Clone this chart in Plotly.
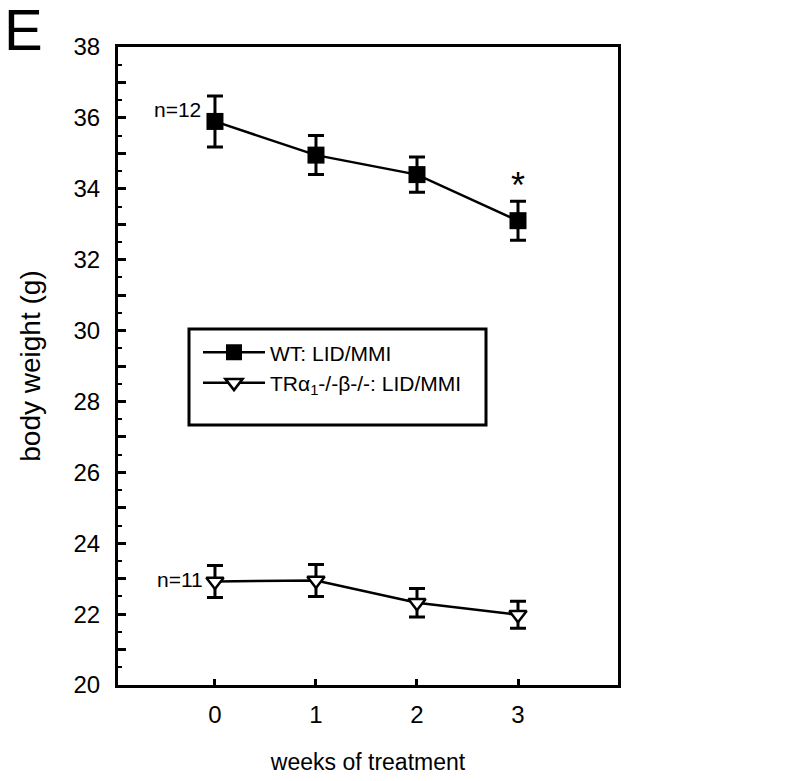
import plotly.graph_objects as go

# body weight over weeks of LID/MMI treatment
weeks = [0, 1, 2, 3]
wt_mean = [35.9, 34.95, 34.4, 33.1]
wt_err = [0.72, 0.55, 0.5, 0.55]
tr_mean = [22.92, 22.95, 22.32, 21.98]
tr_err = [0.45, 0.45, 0.4, 0.38]

y_ticks = list(range(20, 39))
y_labels = [str(v) if v % 2 == 0 else "" for v in y_ticks]

FONT = "Liberation Sans, Arial, sans-serif"

fig = go.Figure()

fig.add_trace(go.Scatter(
    x=weeks, y=wt_mean,
    mode="lines+markers",
    name="WT: LID/MMI",
    line=dict(color="black", width=2.5),
    marker=dict(symbol="square", size=17, color="black"),
    error_y=dict(type="data", array=wt_err, color="black", thickness=3, width=8),
))

fig.add_trace(go.Scatter(
    x=weeks, y=tr_mean,
    mode="lines+markers",
    name="TRα<sub>1</sub>-/-β-/-: LID/MMI",
    line=dict(color="black", width=2.5),
    marker=dict(symbol="triangle-down", size=15, color="white",
                line=dict(color="black", width=2.5)),
    error_y=dict(type="data", array=tr_err, color="black", thickness=3, width=8),
))

# annotations: panel letter, group sizes, significance star
fig.add_annotation(x=-0.37, y=36.25, text="n=12", showarrow=False,
                   font=dict(size=21, family=FONT, color="black"))
fig.add_annotation(x=-0.35, y=22.97, text="n=11", showarrow=False,
                   font=dict(size=21, family=FONT, color="black"))
fig.add_annotation(x=3, y=34.1, text="*", showarrow=False,
                   font=dict(size=36, family=FONT, color="black"))
fig.add_annotation(xref="paper", yref="paper", x=-0.232, y=1.082,
                   xanchor="left", yanchor="top", text="E", showarrow=False,
                   font=dict(size=58, family=FONT, color="black"))

# legend frame
fig.add_shape(type="rect", xref="paper", yref="paper",
              x0=0.142, x1=0.736, y0=0.4075, y1=0.558,
              line=dict(color="black", width=3), fillcolor="rgba(0,0,0,0)")

# page body adds ~7px offset, so the figure is shrunk by that much
fig.update_layout(
    width=793, height=774,
    margin=dict(l=110, r=183, t=39, b=97),
    plot_bgcolor="white", paper_bgcolor="white",
    font=dict(family=FONT, color="black"),
    legend=dict(x=0.16, y=0.553, xanchor="left", yanchor="top",
                bgcolor="rgba(0,0,0,0)", borderwidth=0,
                font=dict(size=21, family=FONT), itemwidth=62,
                tracegroupgap=0),
    xaxis=dict(
        range=[-0.96, 3.99], tickvals=weeks, ticks="inside", ticklen=6,
        tickwidth=2.5, tickcolor="black", showgrid=False, zeroline=False,
        showline=True, linecolor="black", linewidth=3, mirror=True,
        tickfont=dict(size=24), ticklabelstandoff=6, automargin=False,
        title=dict(text="weeks of treatment", font=dict(size=23), standoff=28),
    ),
    yaxis=dict(
        range=[20, 38], tickvals=y_ticks, ticktext=y_labels, ticks="inside",
        ticklen=8, tickwidth=2.5, tickcolor="black",
        minor=dict(dtick=0.5, ticks="inside", ticklen=4, tickwidth=2, tickcolor="black"),
        showgrid=False, zeroline=False,
        showline=True, linecolor="black", linewidth=3, mirror=True,
        tickfont=dict(size=24), ticklabelstandoff=10, automargin=False,
        title=dict(text="body weight (g)", font=dict(size=28), standoff=25),
    ),
)

fig.write_html("out.html")
